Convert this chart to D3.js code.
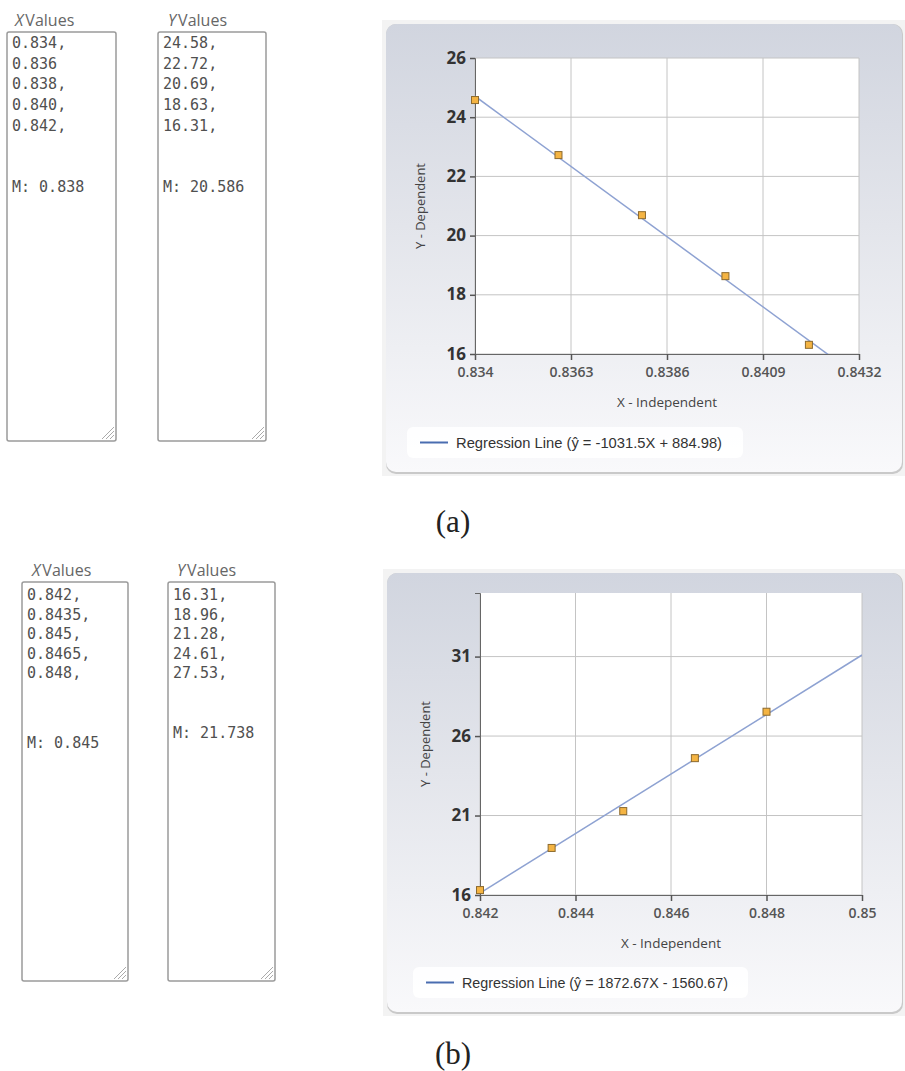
<!DOCTYPE html>
<html>
<head>
<meta charset="utf-8">
<script src="https://cdn.jsdelivr.net/npm/d3@7"></script>
<style>
  html, body { margin: 0; padding: 0; background: #ffffff; }
  svg { display: block; }
</style>
</head>
<body>
<svg id="chart" width="905" height="1071"></svg>
<script>
// ---------- DATA ----------
const xValuesA = [0.834, 0.836, 0.838, 0.840, 0.842];
const yValuesA = [24.58, 22.72, 20.69, 18.63, 16.31];
const xTextA = ["0.834,", "0.836", "0.838,", "0.840,", "0.842,"];
const yTextA = ["24.58,", "22.72,", "20.69,", "18.63,", "16.31,"];
const meanTextXA = "M: 0.838";
const meanTextYA = "M: 20.586";
const slopeA = -1031.5, interceptA = 884.98;
const legendA = "Regression Line (\u0177 = -1031.5X + 884.98)";
const xTicksA = [0.834, 0.8363, 0.8386, 0.8409, 0.8432];
const yTicksA = [16, 18, 20, 22, 24, 26];
const xDomainA = [0.834, 0.8432];
const yDomainA = [16, 26];

const xValuesB = [0.842, 0.8435, 0.845, 0.8465, 0.848];
const yValuesB = [16.31, 18.96, 21.28, 24.61, 27.53];
const xTextB = ["0.842,", "0.8435,", "0.845,", "0.8465,", "0.848,"];
const yTextB = ["16.31,", "18.96,", "21.28,", "24.61,", "27.53,"];
const meanTextXB = "M: 0.845";
const meanTextYB = "M: 21.738";
const slopeB = 1872.67, interceptB = -1560.67;
const legendB = "Regression Line (\u0177 = 1872.67X - 1560.67)";
const xTicksB = [0.842, 0.844, 0.846, 0.848, 0.85];
const yTicksB = [16, 21, 26, 31];
const xDomainB = [0.842, 0.85];
const yDomainB = [16, 35];

const captions = ["(a)", "(b)"];

// ---------- DRAW ----------
const svg = d3.select("#chart");
const defs = svg.append("defs");
const grad = defs.append("linearGradient").attr("id", "panelGrad")
  .attr("x1", 0).attr("y1", 0).attr("x2", 0).attr("y2", 1);
grad.append("stop").attr("offset", "0%").attr("stop-color", "#d1d5df");
grad.append("stop").attr("offset", "45%").attr("stop-color", "#e3e5eb");
grad.append("stop").attr("offset", "100%").attr("stop-color", "#f9f9fb");

function textBox(cfg) {
  const g = svg.append("g");
  const lbl = g.append("text").attr("x", cfg.lx).attr("y", cfg.ly)
    .attr("font-family", "'Open Sans', 'Noto Sans', sans-serif")
    .attr("font-size", 16).attr("fill", "#666");
  lbl.append("tspan").attr("font-style", "italic").text(cfg.letter);
  lbl.append("tspan").attr("dx", 2).text("Values");
  g.append("rect").attr("x", cfg.x).attr("y", cfg.y).attr("width", cfg.w).attr("height", cfg.h)
    .attr("rx", 2).attr("fill", "#fff").attr("stroke", "#9a9a9a").attr("stroke-width", 1.5);
  const gx = cfg.x + cfg.w - 2, gy = cfg.y + cfg.h - 2;
  [4, 8, 12].forEach(d => {
    g.append("line").attr("x1", gx - d).attr("y1", gy).attr("x2", gx).attr("y2", gy - d)
      .attr("stroke", "#aaa").attr("stroke-width", 1);
  });
  cfg.lines.forEach((t, i) => {
    g.append("text").attr("x", cfg.x + 5).attr("y", cfg.firstY + i * cfg.lh)
      .attr("font-family", "'DejaVu Sans Mono', 'Liberation Mono', monospace")
      .attr("font-size", 15).attr("fill", "#505050").text(t);
  });
  g.append("text").attr("x", cfg.x + 5).attr("y", cfg.meanY)
    .attr("font-family", "'DejaVu Sans Mono', 'Liberation Mono', monospace")
    .attr("font-size", 15).attr("fill", "#505050").text(cfg.mean);
}

textBox({letter: "X", lx: 15, ly: 26, x: 7, y: 32, w: 109, h: 409, lines: xTextA, firstY: 48, lh: 20.7, mean: meanTextXA, meanY: 192});
textBox({letter: "Y", lx: 168, ly: 26, x: 158, y: 32, w: 108, h: 409, lines: yTextA, firstY: 48, lh: 20.7, mean: meanTextYA, meanY: 192});
textBox({letter: "X", lx: 32, ly: 576, x: 22, y: 582, w: 106, h: 399, lines: xTextB, firstY: 600, lh: 19.6, mean: meanTextXB, meanY: 748});
textBox({letter: "Y", lx: 177, ly: 576, x: 168, y: 582, w: 107, h: 399, lines: yTextB, firstY: 600, lh: 19.6, mean: meanTextYB, meanY: 738});

function chart(cfg) {
  const g = svg.append("g");
  g.append("rect").attr("x", cfg.px).attr("y", cfg.py).attr("width", 905 - cfg.px + 4).attr("height", cfg.ph)
    .attr("fill", "#f3f3f3");
  g.append("rect").attr("x", cfg.px + 4).attr("y", cfg.py + 4).attr("width", 905 - cfg.px - 6).attr("height", cfg.ph - 6)
    .attr("rx", 10).attr("fill", "#c9c9c9");
  g.append("rect").attr("x", cfg.px + 4).attr("y", cfg.py + 4).attr("width", 905 - cfg.px - 7).attr("height", cfg.ph - 8)
    .attr("rx", 10).attr("fill", "url(#panelGrad)");

  const x = d3.scaleLinear().domain(cfg.xDomain).range([cfg.left, cfg.right]);
  const y = d3.scaleLinear().domain(cfg.yDomain).range([cfg.bottom, cfg.top]);

  g.append("rect").attr("x", cfg.left).attr("y", cfg.top).attr("width", cfg.right - cfg.left)
    .attr("height", cfg.bottom - cfg.top).attr("fill", "#fff");

  g.append("g").selectAll("line").data(cfg.xTicks).join("line")
    .attr("x1", d => x(d)).attr("x2", d => x(d)).attr("y1", cfg.top).attr("y2", cfg.bottom)
    .attr("stroke", "#c4c4c4").attr("stroke-width", 1);
  g.append("g").selectAll("line").data(cfg.yTicks).join("line")
    .attr("x1", cfg.left).attr("x2", cfg.right).attr("y1", d => y(d)).attr("y2", d => y(d))
    .attr("stroke", "#c4c4c4").attr("stroke-width", 1);

  const xAxis = g.append("g").attr("transform", `translate(0,${cfg.bottom})`)
    .call(d3.axisBottom(x).tickValues(cfg.xTicks).tickSize(6).tickPadding(7).tickFormat(d => String(+d.toFixed(4))));
  xAxis.select(".domain").attr("stroke", "#666");
  xAxis.selectAll(".tick line").attr("stroke", "#555").attr("stroke-width", 1.5);
  xAxis.selectAll("text").attr("font-family", "'Open Sans', 'Noto Sans', sans-serif")
    .attr("font-size", 14).attr("font-weight", 600).attr("fill", "#555");

  const yAxis = g.append("g").attr("transform", `translate(${cfg.left},0)`)
    .call(d3.axisLeft(y).tickValues(cfg.yTicks).tickSize(5).tickPadding(4));
  yAxis.select(".domain").attr("stroke", "#666");
  yAxis.selectAll(".tick line").attr("stroke", "#555").attr("stroke-width", 1.5);
  yAxis.selectAll("text").attr("font-family", "'Open Sans', 'Noto Sans', sans-serif")
    .attr("font-size", 17).attr("font-weight", 700).attr("fill", "#333").attr("dy", "0.3em");

  g.append("text").attr("x", (cfg.left + cfg.right) / 2).attr("y", cfg.bottom + 53)
    .attr("text-anchor", "middle").attr("font-family", "'Open Sans', 'Noto Sans', sans-serif")
    .attr("font-size", 13.5).attr("fill", "#444").text("X - Independent");
  g.append("text").attr("transform", `translate(${cfg.left - 50},${(cfg.top + cfg.bottom) / 2}) rotate(-90)`)
    .attr("text-anchor", "middle").attr("font-family", "'Open Sans', 'Noto Sans', sans-serif")
    .attr("font-size", 13).attr("fill", "#444").text("Y - Dependent");

  const clipId = "clip" + cfg.id;
  defs.append("clipPath").attr("id", clipId).append("rect")
    .attr("x", cfg.left).attr("y", cfg.top).attr("width", cfg.right - cfg.left).attr("height", cfg.bottom - cfg.top);
  const lineData = cfg.xDomain.map(xv => [xv, cfg.slope * xv + cfg.intercept]);
  g.append("path").datum(lineData).attr("clip-path", `url(#${clipId})`)
    .attr("d", d3.line().x(d => x(d[0])).y(d => y(d[1])))
    .attr("fill", "none").attr("stroke", "#8ea2d2").attr("stroke-width", 1.5);

  const pts = cfg.xs.map((v, i) => [v, cfg.ys[i]]);
  g.append("g").selectAll("rect").data(pts).join("rect")
    .attr("x", d => x(d[0]) - 3.5).attr("y", d => y(d[1]) - 3.5)
    .attr("width", 7).attr("height", 7)
    .attr("fill", "#f4b443").attr("stroke", "#8c6a2e").attr("stroke-width", 1);

  g.append("rect").attr("x", cfg.lgx).attr("y", cfg.lgy).attr("width", cfg.lgw).attr("height", 31)
    .attr("rx", 6).attr("fill", "#ffffff").attr("opacity", 0.9);
  g.append("line").attr("x1", cfg.lgx + 13).attr("x2", cfg.lgx + 41)
    .attr("y1", cfg.lgy + 15.5).attr("y2", cfg.lgy + 15.5)
    .attr("stroke", "#4a6db0").attr("stroke-width", 2);
  g.append("text").attr("x", cfg.lgx + 49).attr("y", cfg.lgy + 20.5)
    .attr("font-family", "'Liberation Sans', Arial, sans-serif")
    .attr("font-size", 14).attr("fill", "#333")
    .attr("textLength", 266).attr("lengthAdjust", "spacingAndGlyphs").text(cfg.legend);

  svg.append("text").attr("x", 453).attr("y", cfg.capY).attr("text-anchor", "middle")
    .attr("font-family", "'Liberation Serif', 'DejaVu Serif', serif")
    .attr("font-size", 31).attr("fill", "#222").text(cfg.caption);
}

chart({id: "A", px: 382, py: 20, ph: 456, left: 475, right: 859, top: 58, bottom: 354,
  xDomain: xDomainA, yDomain: yDomainA, xTicks: xTicksA, yTicks: yTicksA,
  xs: xValuesA, ys: yValuesA, slope: slopeA, intercept: interceptA,
  lgx: 407, lgy: 427, lgw: 336, legend: legendA, caption: captions[0], capY: 532});

chart({id: "B", px: 383, py: 569, ph: 447, left: 480, right: 862, top: 593, bottom: 895,
  xDomain: xDomainB, yDomain: yDomainB, xTicks: xTicksB, yTicks: yTicksB,
  xs: xValuesB, ys: yValuesB, slope: slopeB, intercept: interceptB,
  lgx: 413, lgy: 967, lgw: 335, legend: legendB, caption: captions[1], capY: 1064});
</script>
</body>
</html>
